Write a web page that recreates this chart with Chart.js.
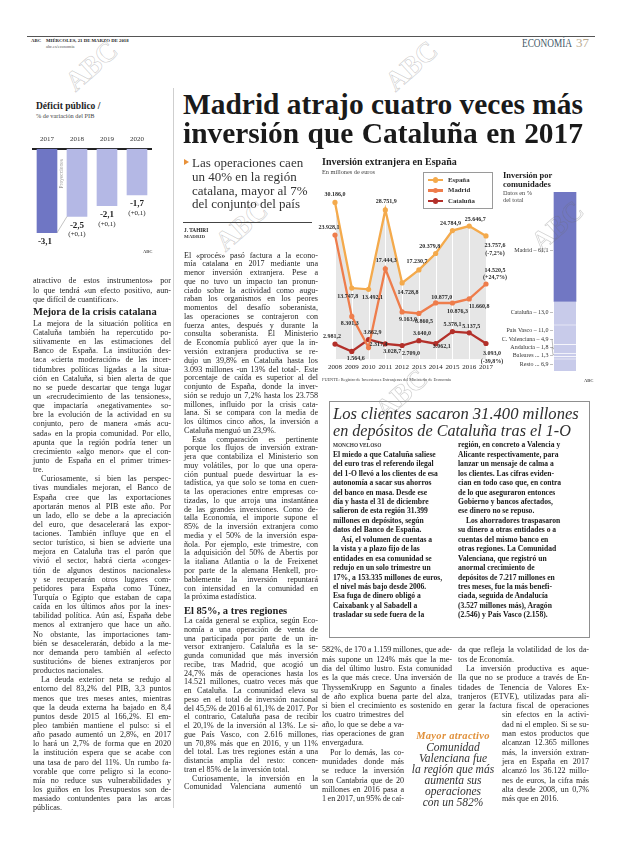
<!DOCTYPE html>
<html lang="es">
<head>
<meta charset="utf-8">
<script src="https://cdn.jsdelivr.net/npm/chart.js@4.4.1/dist/chart.umd.min.js"></script>
<style>
html,body{margin:0;padding:0;background:#fff}
body{width:620px;height:846px;position:relative;overflow:hidden;font-family:"Liberation Serif","Times New Roman",serif;color:#262626}
.a{position:absolute;white-space:nowrap}
canvas{position:absolute}
.wm{position:absolute;white-space:nowrap;font:bold 28px "Liberation Serif",serif;color:transparent;-webkit-text-stroke:0.7px rgba(110,110,110,0.32);transform:rotate(-42deg)}
</style>
</head>
<body>
<canvas id="defChart" width="120" height="133" style="left:32px;top:126px"></canvas>
<canvas id="invChart" width="194" height="192" style="left:318px;top:184px"></canvas>
<canvas id="comChart" width="122" height="186" style="left:490px;top:188px"></canvas>
<script>
// ---------------- DATA ----------------
const defYears = ['2017', '2018', '2019', '2020'];
const defValues = [-3.1, -2.5, -2.1, -1.7];
const defRevision = ['', '(+0,1)', '(+0,1)', '(+0,1)'];

const invYears = ['2008','2009','2010','2011','2012','2013','2014','2015','2016','2017'];
const espana   = [30186.0, 13747.8, 13492.1, 28751.9, 14728.8, 17230.7, 20379.8, 24784.9, 25646.7, 23757.6];
const madrid   = [23928.1, 8301.3, 2317.4, 17444.3, 9163.0, 8860.5, 10877.0, 10876.3, 11660.8, 14520.5];
const cataluna = [2981.2, 1564.6, 3862.9, 3028.7, 2709.0, 3640.0, 3062.1, 5378.1, 5137.5, 3093.0];
const change2017 = [-7.2, 24.7, -39.8];
const seriesNames = ['España', 'Madrid', 'Cataluña'];

const regiones  = ['Madrid', 'Cataluña', 'País Vasco', 'C. Valenciana', 'Andalucía', 'Baleares', 'Resto'];
const regionPct = [61.1, 13.0, 11.0, 4.9, 1.8, 1.3, 6.9];

// ---------------- STYLE (placement of annotations) ----------------
const COL = {es:'#f4aa4c', ma:'#ee7d4c', ca:'#b3302a', fill:'#e6e6e6'};
const labelOffsets = [
  [[0,-8],[-4,8],[4,8],[1,-8],[6,10],[-2,-8],[-6,-7],[-2,-7],[6,-7],[9,10]],
  [[-6,-8],[-2,7],[10,-3],[1,-8],[6,8],[5,8],[6,-6],[5,8],[10,8],[9,-14]],
  [[-3,-8],[4,7],[4,-7],[7,8],[9,8],[3,-7],[6,3],[0,-7],[2,-6],[6,10]]
];
const regionLabelAt = [32.9, 67.0, 77.1, 82.1, 86.6, 91.4, 96.1];
const regionLeader  = ['–','–','–','–','–','...','...'];

Chart.defaults.font.family = '"Liberation Serif", serif';
Chart.defaults.color = '#222';

const fmt1 = v => v.toFixed(1).replace('.', ',');
const fmtK = v => { const s = Math.abs(v).toFixed(1).split('.'); return (v<0?'-':'') + s[0].replace(/\B(?=(\d{3})+(?!\d))/g, '.') + ',' + s[1]; };
const fmtPct = v => '(' + (v>0?'+':'') + fmt1(v) + '%)';

// ---------------- DÉFICIT CHART ----------------
const defPlugin = {
  id: 'defLabels',
  afterDatasetsDraw(chart) {
    const {ctx} = chart; const meta = chart.getDatasetMeta(0);
    ctx.save();
    ctx.textAlign = 'center'; ctx.textBaseline = 'middle'; ctx.fillStyle = '#222';
    meta.data.forEach((bar, i) => {
      ctx.font = 'bold 9px "Liberation Serif"';
      ctx.fillText(fmt1(defValues[i]), bar.x - (i === 0 ? 2 : 0), bar.y + 9);
      if (defRevision[i]) { ctx.font = '7px "Liberation Serif"'; ctx.fillText(defRevision[i], bar.x, bar.y + 18); }
    });
    const b0 = meta.data[0], b1 = meta.data[1];
    ctx.strokeStyle = '#9a9a9a'; ctx.lineWidth = 0.6;
    ctx.beginPath(); ctx.moveTo(b0.x + b0.width/2, b0.y); ctx.lineTo(b1.x - b1.width/2, b1.y); ctx.stroke();
    const gx = (b0.x + b0.width/2 + b1.x - b1.width/2) / 2;
    ctx.translate(gx, chart.chartArea.top + 25); ctx.rotate(-Math.PI/2);
    ctx.font = '5.5px "Liberation Serif"'; ctx.fillStyle = '#9a9a9a'; ctx.fillText('Proyecciones', 0, 0);
    ctx.restore();
  }
};
new Chart(document.getElementById('defChart'), {
  type: 'bar',
  data: { labels: defYears, datasets: [{ data: defValues, backgroundColor: ['#6f76c4','#b4b8e5','#b4b8e5','#b4b8e5'], barThickness: 20 }] },
  options: {
    animation: false, responsive: false, devicePixelRatio: 1,
    layout: { padding: { top: 2.8, left: 0, right: 0, bottom: 0 }, autoPadding: false },
    plugins: { legend: { display: false }, tooltip: { enabled: false } },
    scales: {
      x: { position: 'top', grid: { display: false, drawTicks: false }, border: { display: true, color: '#222', width: 2 },
           ticks: { font: { size: 7 }, color: '#333', padding: 5.8 } },
      y: { display: false, min: -4.07, max: 0 }
    }
  },
  plugins: [defPlugin]
});

// ---------------- INVERSIÓN LINE CHART ----------------
const vgrid = {
  id: 'vgrid',
  beforeDatasetsDraw(chart) {
    const {ctx, chartArea, scales: {x}} = chart;
    ctx.save(); ctx.strokeStyle = '#ffffff'; ctx.lineWidth = 1;
    invYears.forEach((_, i) => { const px = Math.round(x.getPixelForValue(i)) + 0.5;
      ctx.beginPath(); ctx.moveTo(px, chartArea.top); ctx.lineTo(px, chartArea.bottom); ctx.stroke(); });
    ctx.restore();
  }
};
const invLabels = {
  id: 'invLabels',
  afterDatasetsDraw(chart) {
    const {ctx} = chart;
    ctx.save(); ctx.textAlign = 'center'; ctx.textBaseline = 'middle'; ctx.fillStyle = '#2a2a2a';
    ctx.font = 'bold 6px "Liberation Serif"';
    chart.data.datasets.forEach((ds, d) => {
      const meta = chart.getDatasetMeta(d);
      meta.data.forEach((pt, i) => {
        const [dx, dy] = labelOffsets[d][i];
        ctx.fillText(fmtK(ds.data[i]), pt.x + dx, pt.y + dy);
        if (i === ds.data.length - 1) ctx.fillText(fmtPct(change2017[d]), pt.x + dx, pt.y + dy + 7.5);
      });
    });
    ctx.restore();
  }
};
const mkLine = (name, data, color, fill) => ({
  label: name, data, borderColor: color, borderWidth: 2.3, pointRadius: 2.6, pointBackgroundColor: color,
  pointBorderWidth: 0, tension: 0, fill: fill ? 'origin' : false, backgroundColor: fill ? COL.fill : color
});
new Chart(document.getElementById('invChart'), {
  type: 'line',
  data: { labels: invYears, datasets: [
    mkLine(seriesNames[0], espana, COL.es, true),
    mkLine(seriesNames[1], madrid, COL.ma, false),
    mkLine(seriesNames[2], cataluna, COL.ca, false)
  ]},
  options: {
    animation: false, responsive: false, devicePixelRatio: 1,
    layout: { padding: { left: 17, right: 26, top: 9, bottom: 2 }, autoPadding: false },
    plugins: { legend: { display: false }, tooltip: { enabled: false }, filler: { drawTime: 'beforeDatasetsDraw' } },
    scales: {
      x: { grid: { display: false, drawTicks: false }, border: { display: false },
           ticks: { font: { size: 7 }, color: '#222', padding: 3, maxRotation: 0, autoSkip: false } },
      y: { display: false, min: 0, max: 32000 }
    }
  },
  plugins: [vgrid, invLabels]
});

// ---------------- COMUNIDADES STACKED BAR ----------------
const comLabels = {
  id: 'comLabels',
  afterDatasetsDraw(chart) {
    const {ctx, scales: {y}} = chart;
    const bar = chart.getDatasetMeta(0).data[0];
    const left = bar.x - bar.width / 2;
    ctx.save(); ctx.textAlign = 'right'; ctx.textBaseline = 'middle'; ctx.fillStyle = '#333';
    ctx.font = '6px "Liberation Serif"';
    let cum = 0;
    regiones.forEach((r, i) => {
      const ly = y.getPixelForValue(regionLabelAt[i]);
      const mid = y.getPixelForValue(cum + regionPct[i] / 2);
      cum += regionPct[i];
      ctx.fillText(r + ' ' + regionLeader[i] + ' ' + fmt1(regionPct[i]) + ' –', left - 1, ly);
      if (Math.abs(ly - mid) > 3 && i > 2) {
        ctx.strokeStyle = '#777'; ctx.lineWidth = 0.5;
        ctx.beginPath(); ctx.moveTo(left - 2, ly); ctx.lineTo(left - 1, mid); ctx.lineTo(left, mid); ctx.stroke();
      }
    });
    ctx.restore();
  }
};
new Chart(document.getElementById('comChart'), {
  type: 'bar',
  data: { labels: ['total'], datasets: regiones.map((r, i) => ({
    label: r, data: [regionPct[i]], backgroundColor: i === 0 ? '#7177c3' : '#c8cbea',
    borderColor: '#ffffff', borderWidth: i === 0 ? 0 : { top: 1, bottom: 0, left: 0, right: 0 }, borderSkipped: false,
    barThickness: 22 })) },
  options: {
    animation: false, responsive: false, devicePixelRatio: 1,
    layout: { padding: { left: 30, right: 2, top: 4, bottom: 3 }, autoPadding: false },
    plugins: { legend: { display: false }, tooltip: { enabled: false } },
    scales: { x: { display: false, stacked: true }, y: { display: false, stacked: true, reverse: true, min: 0, max: 100 } }
  },
  plugins: [comLabels]
});

// ---------------- PAGE TEXT ----------------
function put(text, x, cy, size, css) {
  const d = document.createElement('div'); d.className = 'a';
  d.textContent = text;
  d.style.left = x + 'px'; d.style.top = (cy - size * 0.62) + 'px';
  d.style.fontSize = size + 'px'; d.style.lineHeight = (size * 1.2) + 'px';
  if (css) d.style.cssText += css;
  document.body.appendChild(d); return d;
}
function box(x, y, w, h, css) {
  const d = document.createElement('div'); d.style.cssText = 'position:absolute;left:'+x+'px;top:'+y+'px;width:'+w+'px;height:'+h+'px;' + (css||'');
  document.body.appendChild(d); return d;
}
function fit(el, text, w, justify) {
  const nat = el.getBoundingClientRect().width;
  if (!justify && nat <= w) return;
  const sp = (text.match(/ /g) || []).length;
  if (sp > 0) el.style.wordSpacing = ((w - nat) / sp).toFixed(3) + 'px';
  else el.style.letterSpacing = ((w - nat) / Math.max(1, text.length)).toFixed(3) + 'px';
}
function column(cfg, lines) {
  let top = cfg.y0 - cfg.lh / 2;
  lines.forEach(s => {
    if (s.startsWith('#')) {
      const t = s.slice(1);
      const d = document.createElement('div'); d.className = 'a'; d.textContent = t;
      d.style.cssText += 'left:'+cfg.x+'px;top:'+(top + cfg.hPad)+'px;font-weight:bold;font-size:'+cfg.hfs+'px;line-height:'+cfg.hfs*1.15+'px;color:#1d1d1d';
      document.body.appendChild(d);
      top += cfg.hh; return;
    }
    let ind = false, end = false;
    if (s.startsWith('>')) { ind = true; s = s.slice(1); }
    if (s.endsWith('|')) { end = true; s = s.slice(0, -1); }
    const d = document.createElement('div'); d.className = 'a'; d.textContent = s;
    const x = cfg.x + (ind ? cfg.ind : 0), w = cfg.w - (ind ? cfg.ind : 0);
    d.style.cssText += 'left:'+x+'px;top:'+top+'px;font-size:'+cfg.fs+'px;line-height:'+cfg.lh+'px;' + (cfg.css || '');
    document.body.appendChild(d);
    fit(d, s, w, !end && !cfg.ragged);
    top += cfg.lh;
  });
}

// header
box(27, 36, 568, 1, 'background:#555');
put('ABC', 31, 41, 4.8, 'font-weight:bold');
put('MIÉRCOLES, 21 DE MARZO DE 2018', 46, 41, 4.8, 'font-weight:bold');
put('abc.es/economia', 46, 46.5, 4.3, 'color:#555');
(function(){
  const e = put('ECONOMÍA', 522, 43.5, 13, 'color:#3f5866;transform-origin:0 50%');
  const w = e.getBoundingClientRect().width;
  e.style.transform = 'scaleX(' + (50 / w).toFixed(3) + ')';
  put('37', 576, 43.5, 13, 'color:#b9aa90');
})();

// watermarks
[[62,50],[382,50],[212,210],[528,210],[372,378]].forEach(([x,y]) => {
  const d = document.createElement('div'); d.className = 'wm'; d.textContent = 'ABC';
  d.style.left = x + 'px'; d.style.top = y + 'px'; document.body.appendChild(d);
});

// déficit titles
put('Déficit público /', 36, 107, 9.5, 'font-weight:bold;color:#1d1d1d');
put('% de variación del PIB', 36, 116, 6.3, 'color:#444');
put('ABC', 143, 252, 4.5, 'font-weight:bold;color:#555');

// column rule
box(173, 88, 1, 720, 'background:#cfcfcf');

// headline
(function(){
  const l1 = 'Madrid atrajo cuatro veces más', l2 = 'inversión que Cataluña en 2017';
  const W = 400;
  const probe = put(l1, 0, -100, 30, 'font-weight:bold');
  const fs = 30 * W / probe.getBoundingClientRect().width; probe.remove();
  const mk = (t, base) => { const d = document.createElement('div'); d.className = 'a'; d.textContent = t;
    d.style.cssText += 'left:183px;top:'+(base - 0.891*fs)+'px;font-size:'+fs+'px;line-height:'+(1.107*fs)+'px;font-weight:bold;color:#1a1a1a';
    document.body.appendChild(d); fit(d, t, W, true); };
  mk(l1, 114); mk(l2, 143);
})();

// summary
box(184, 159, 0, 0, 'border-left:5px solid #e8913a;border-top:3.5px solid transparent;border-bottom:3.5px solid transparent');
['Las operaciones caen','un 40% en la región','catalana, mayor al 7%','del conjunto del país'].forEach((t,i) =>
  put(t, 192, 163 + i*13.8, 13, 'color:#333'));
box(183, 222, 129, 1, 'background:#444');
put('J. TAHIRI', 184, 230, 5.3, 'font-weight:bold');
put('MADRID', 184, 237.5, 5, 'font-weight:bold;color:#444');

// chart titles
put('Inversión extranjera en España', 322, 162, 10, 'font-weight:bold;color:#1d1d1d');
put('En millones de euros', 322, 172, 6.3, 'color:#444');
put('Inversión por', 503, 175, 8.5, 'font-weight:bold;color:#1d1d1d');
put('comunidades', 503, 184, 8.5, 'font-weight:bold;color:#1d1d1d');
put('Datos en %', 503, 193, 6.3, 'color:#444');
put('del total', 503, 200, 6.3, 'color:#444');
put('FUENTE: Registro de Inversiones Extranjeras del Ministerio de Economía', 322, 380, 4.3, 'color:#444');
put('ABC', 584, 381, 4.5, 'font-weight:bold;color:#555');

// legend
box(423, 172, 68, 35, 'border:1px solid #9a9a9a;background:#fff');
[[COL.es, 180], [COL.ma, 190.5], [COL.ca, 201]].forEach(([c, cy], i) => {
  box(428, cy - 1.1, 15, 2.2, 'background:' + c);
  box(433, cy - 2.6, 5.2, 5.2, 'border-radius:50%;background:' + c);
  put(seriesNames[i], 448, cy, 6.8, 'font-weight:bold;color:#333');
});

// columns
column({x:33, w:138, y0:281, lh:9.14, fs:8.1, ind:8, hfs:10.5, hh:15, hPad:2.5}, [
"atractivo de estos instrumentos» por",
"lo que tendrá «un efecto positivo, aun-",
"que difícil de cuantificar».|",
"#Mejora de la crisis catalana",
"La mejora de la situación política en",
"Cataluña también ha repercutido po-",
"sitivamente en las estimaciones del",
"Banco de España. La institución des-",
"taca «cierta moderación» de las incer-",
"tidumbres políticas ligadas a la situa-",
"ción en Cataluña, si bien alerta de que",
"no se puede descartar que tenga lugar",
"un «recrudecimiento de las tensiones»,",
"que impactaría «negativamente» so-",
"bre la evolución de la actividad en su",
"conjunto, pero de manera «más acu-",
"sada» en la propia comunidad. Por ello,",
"apunta que la región podría tener un",
"crecimiento «algo menor» que el con-",
"junto de España en el primer trimes-",
"tre.|",
">Curiosamente, si bien las perspec-",
"tivas mundiales mejoran, el Banco de",
"España cree que las exportaciones",
"aportarán menos al PIB este año. Por",
"un lado, ello se debe a la apreciación",
"del euro, que desacelerará las expor-",
"taciones. También influye que en el",
"sector turístico, si bien se advierte una",
"mejora en Cataluña tras el parón que",
"vivió el sector, habrá cierta «conges-",
"tión de algunos destinos nacionales»",
"y se recuperarán otros lugares com-",
"petidores para España como Túnez,",
"Turquía o Egipto que estaban de capa",
"caída en los últimos años por la ines-",
"tabilidad política. Aún así, España debe",
"menos al extranjero que hace un año.",
"No obstante, las importaciones tam-",
"bién se desacelerarán, debido a la me-",
"nor demanda pero también al «efecto",
"sustitución» de bienes extranjeros por",
"productos nacionales.|",
">La deuda exterior neta se redujo al",
"entorno del 83,2% del PIB, 3,3 puntos",
"menos que tres meses antes, mientras",
"que la deuda externa ha bajado en 8,4",
"puntos desde 2015 al 166,2%. El em-",
"pleo también mantiene el pulso: si el",
"año pasado aumentó un 2,8%, en 2017",
"lo hará un 2,7% de forma que en 2020",
"la institución espera que se acabe con",
"una tasa de paro del 11%. Un rumbo fa-",
"vorable que corre peligro si la econo-",
"mía no reduce sus vulnerabilidades y",
"los guiños en los Presupuestos son de-",
"masiado contundentes para las arcas",
"públicas.|"
]);

column({x:184, w:134, y0:256, lh:8.76, fs:8.1, ind:8, hfs:10.5, hh:15, hPad:2.5}, [
"El «procés» pasó factura a la econo-",
"mía catalana en 2017 mediante una",
"menor inversión extranjera. Pese a",
"que no tuvo un impacto tan pronun-",
"ciado sobre la actividad como augu-",
"raban los organismos en los peores",
"momentos del desafío soberanista,",
"las operaciones se contrajeron con",
"fuerza antes, después y durante la",
"consulta soberanista. El Ministerio",
"de Economía publicó ayer que la in-",
"versión extranjera productiva se re-",
"dujo un 39,8% en Cataluña hasta los",
"3.093 millones -un 13% del total-. Este",
"porcentaje de caída es superior al del",
"conjunto de España, donde la inver-",
"sión se redujo un 7,2% hasta los 23.758",
"millones, influido por la crisis cata-",
"lana. Si se compara con la media de",
"los últimos cinco años, la inversión a",
"Cataluña menguó un 23,9%.|",
">Esta comparación es pertinente",
"porque los flujos de inversión extran-",
"jera que contabiliza el Ministerio son",
"muy volátiles, por lo que una opera-",
"ción puntual puede desvirtuar la es-",
"tadística, ya que solo se toma en cuen-",
"ta las operaciones entre empresas co-",
"tizadas, lo que arroja una instantánea",
"de las grandes inversiones. Como de-",
"talla Economía, el importe supone el",
"85% de la inversión extranjera como",
"media y el 50% de la inversión espa-",
"ñola. Por ejemplo, este trimestre, con",
"la adquisición del 50% de Abertis por",
"la italiana Atlantia o la de Freixenet",
"por parte de la alemana Henkell, pro-",
"bablemente la inversión repuntará",
"con intensidad en la comunidad en",
"la próxima estadística.|",
"#El 85%, a tres regiones",
"La caída general se explica, según Eco-",
"nomía a una operación de venta de",
"una participada por parte de un in-",
"versor extranjero. Cataluña es la se-",
"gunda comunidad que más inversión",
"recibe, tras Madrid, que acogió un",
"24,7% más de operaciones hasta los",
"14.521 millones, cuatro veces más que",
"en Cataluña. La comunidad eleva su",
"peso en el total de inversión nacional",
"del 45,5% de 2016 al 61,1% de 2017. Por",
"el contrario, Cataluña pasa de recibir",
"el 20,1% de la inversión al 13%. Le si-",
"gue País Vasco, con 2.616 millones,",
"un 70,8% más que en 2016, y un 11%",
"del total. Las tres regiones están a una",
"distancia amplia del resto: concen-",
"tran el 85% de la inversión total.|",
">Curiosamente, la inversión en la",
"Comunidad Valenciana aumentó un"
]);

// box
box(329, 401, 259, 235, 'border:1px solid #8f8f8f');
(function(){
  ['Los clientes sacaron 31.400 millones', 'en depósitos de Cataluña tras el 1-O'].forEach((t, i) => {
    const d = put(t, 333, 414 + i*17.5, 15, 'font-style:italic;color:#2e2e2e');
    const w = d.getBoundingClientRect().width;
    const target = i === 0 ? 246 : 238;
    d.style.fontSize = (15 * target / w) + 'px';
  });
})();
put('MONCHO VELOSO', 333, 445, 5.3, 'font-weight:bold;color:#333');
const boxCfg = {lh:9.45, fs:7.6, ind:8, ragged:true, css:'font-weight:bold;color:#202020'};
column(Object.assign({x:333, w:114, y0:454.45}, boxCfg), [
"El miedo a que Cataluña saliese",
"del euro tras el referendo ilegal",
"del 1-O llevó a los clientes de esa",
"autonomía a sacar sus ahorros",
"del banco en masa. Desde ese",
"día y hasta el 31 de diciembre",
"salieron de esta región 31.399",
"millones en depósitos, según",
"datos del Banco de España.|",
">Así, el volumen de cuentas a",
"la vista y a plazo fijo de las",
"entidades en esa comunidad se",
"redujo en un solo trimestre un",
"17%, a 153.335 millones de euros,",
"el nivel más bajo desde 2006.",
"Esa fuga de dinero obligó a",
"Caixabank y al Sabadell a",
"trasladar su sede fuera de la"
]);
column(Object.assign({x:458, w:120, y0:445}, boxCfg), [
"región, en concreto a Valencia y",
"Alicante respectivamente, para",
"lanzar un mensaje de calma a",
"los clientes. Las cifras eviden-",
"cian en todo caso que, en contra",
"de lo que aseguraron entonces",
"Gobierno y bancos afectados,",
"ese dinero no se repuso.|",
">Los ahorradores traspasaron",
"su dinero a otras entidades o a",
"cuentas del mismo banco en",
"otras regiones. La Comunidad",
"Valenciana, que registró un",
"anormal crecimiento de",
"depósitos de 7.217 millones en",
"tres meses, fue la más benefi-",
"ciada, seguida de Andalucía",
"(3.527 millones más), Aragón",
"(2.546) y País Vasco (2.158).|"
]);

// bottom columns
const LH3 = 9.3;
column({x:322, w:130, y0:650, lh:LH3, fs:8.1, ind:8}, [
"582%, de 170 a 1.159 millones, que ade-",
"más supone un 124% más que la me-",
"dia del último lustro. Esta comunidad",
"es la que más crece. Una inversión de",
"ThyssemKrupp en Sagunto a finales",
"de año explica buena parte del alza,",
"si bien el crecimiento es sostenido en"
]);
column({x:322, w:82, y0:650 + 7*LH3, lh:LH3, fs:8.1, ind:8}, [
"los cuatro trimestres del",
"año, lo que se debe a va-",
"rias operaciones de gran",
"envergadura.|",
">Por lo demás, las co-",
"munidades donde más",
"se reduce la inversión",
"son Cantabria que de 20",
"millones en 2016 pasa a",
"1 en 2017, un 95% de caí-"
]);
column({x:458, w:131, y0:650, lh:LH3, fs:8.1, ind:8}, [
"da que refleja la volatilidad de los da-",
"tos de Economía.|",
">La inversión productiva es aque-",
"lla que no se produce a través de En-",
"tidades de Tenencia de Valores Ex-",
"tranjeros (ETVE), utilizadas para ali-",
"gerar la factura fiscal de operaciones"
]);
column({x:502, w:87, y0:650 + 7*LH3, lh:LH3, fs:8.1, ind:8}, [
"sin efectos en la activi-",
"dad ni el empleo. Si se su-",
"man estos productos que",
"alcanzan 12.365 millones",
"más, la inversión extran-",
"jera en España en 2017",
"alcanzó los 36.122 millo-",
"nes de euros, la cifra más",
"alta desde 2008, un 0,7%",
"más que en 2016.|"
]);

// pull quote
(function(){
  const lines = [['Mayor atractivo', 737, 'font-weight:bold;font-style:italic;color:#e0903a;letter-spacing:0.3px', 10.5],
    ['Comunidad', 748.5], ['Valenciana fue', 759.5], ['la región que más', 770.5], ['aumenta sus', 781.5], ['operaciones', 792.5], ['con un 582%', 803.5]];
  lines.forEach(([t, cy, css, fs]) => {
    const f = fs || 11.5;
    const d = put(t, 0, cy, f, css || 'font-style:italic;color:#333');
    const w = d.getBoundingClientRect().width; d.style.left = (453 - w/2) + 'px';
  });
})();
</script>
</body>
</html>
